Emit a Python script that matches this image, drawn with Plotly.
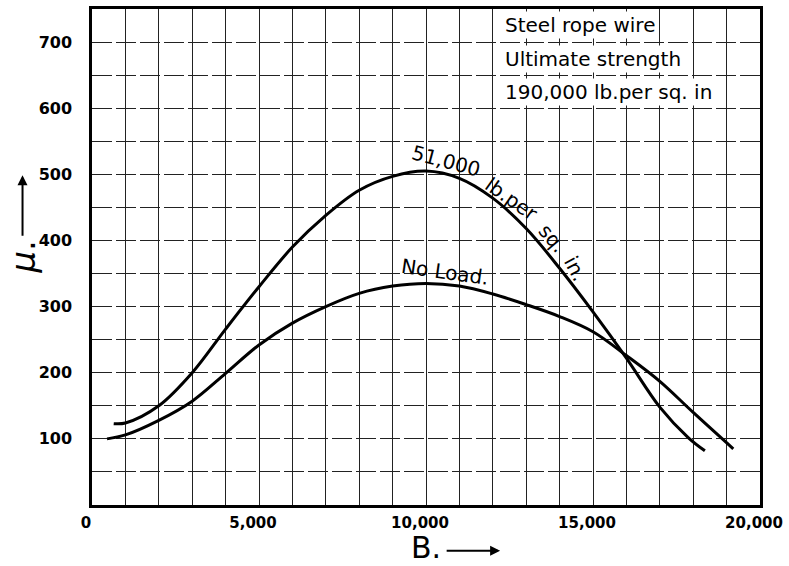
import plotly.graph_objects as go

# Curva con carga de 51,000 lb por pulgada cuadrada
b_load = [650, 1000, 2000, 3000, 4000, 5000, 6000, 7000, 8000, 9000, 10000, 11000,
          12000, 13000, 14000, 15000, 16000, 17000, 17850, 18350]
mu_load = [123, 124, 150, 200, 266, 330, 390, 438, 476, 497, 505, 494,
           464, 418, 358, 292, 222, 148, 102, 82]

# Curva sin carga
b_noload = [450, 1000, 2000, 3000, 4000, 5000, 6000, 7000, 8000, 9000, 10000, 11000,
            12000, 13000, 14000, 15000, 16000, 17000, 18000, 19200]
mu_noload = [100, 106, 128, 157, 199, 242, 275, 300, 320, 331, 335, 331,
             319, 303, 285, 262, 226, 187, 140, 85]

x_ticks = [0, 5000, 10000, 15000, 20000]
x_labels = ["0", "5,000", "10,000", "15,000", "20,000"]
y_ticks = [100, 200, 300, 400, 500, 600, 700]
y_labels = ["100", "200", "300", "400", "500", "600", "700"]

FONT = "DejaVu Sans"

fig = go.Figure()
fig.add_trace(go.Scatter(x=b_load, y=mu_load, mode="lines", line_shape="spline",
                         line=dict(color="black", width=3), name="51,000 lb.per sq. in."))
fig.add_trace(go.Scatter(x=b_noload, y=mu_noload, mode="lines", line_shape="spline",
                         line=dict(color="black", width=3), name="No Load."))

gcol = "#222"

fig.update_xaxes(range=[0, 20000], tickvals=x_ticks, ticktext=x_labels,
                 showline=True, linecolor="black", linewidth=2.5, mirror=True,
                 showgrid=True, gridcolor=gcol, gridwidth=1,
                 minor=dict(dtick=1000, showgrid=True, gridcolor=gcol, gridwidth=1),
                 ticks="", ticklabelstandoff=2, ticklabelshift=-6,
                 ticklabeloverflow="allow", zeroline=False,
                 tickfont=dict(family=FONT, size=15, color="black", weight="bold"))
fig.update_yaxes(range=[0, 750], tickvals=y_ticks, ticktext=y_labels,
                 showline=True, linecolor="black", linewidth=2.5, mirror=True,
                 showgrid=True, gridcolor=gcol, gridwidth=1, griddash="20px,4px",
                 minor=dict(dtick=50, showgrid=True, gridcolor=gcol, gridwidth=1,
                            griddash="20px,4px"),
                 ticks="", ticklabelstandoff=14, zeroline=False,
                 tickfont=dict(family=FONT, size=16, color="black", weight="bold"))

notes = []
# Texto del recuadro superior derecho
for txt, yy in [("Steel rope wire", 726), ("Ultimate strength", 675),
                ("190,000 lb.per sq. in", 625)]:
    notes.append(dict(x=12300, y=yy, xref="x", yref="y", text=txt, showarrow=False,
                      xanchor="left", yanchor="middle", bgcolor="white",
                      font=dict(family=FONT, size=20, color="black")))
# Etiquetas de las curvas
for txt, xx, yy, ang in [("51,000", 10600, 520, 15), ("lb.per", 12550, 462, 35),
                         ("sq.", 13780, 404, 50), ("in.", 14480, 357, 62),
                         ("No Load.", 10580, 352, 8)]:
    notes.append(dict(x=xx, y=yy, xref="x", yref="y", text=txt, showarrow=False,
                      textangle=ang, xanchor="center", yanchor="middle",
                      font=dict(family=FONT, size=20, color="black")))

# Títulos de los ejes con flechas
notes.append(dict(x=0.5, y=-0.122, xref="paper", yref="paper", text="B.", showarrow=False,
                  xanchor="center", yanchor="bottom", borderpad=0,
                  font=dict(family=FONT, size=30, color="black")))
notes.append(dict(x=0.611, y=-0.092, xref="paper", yref="paper", text="", showarrow=True,
                  ax=-55, ay=0, arrowhead=2, arrowsize=1, arrowwidth=2, arrowcolor="black"))
notes.append(dict(x=-0.104, y=0.50, xref="paper", yref="paper", text="<i>μ</i>.",
                  showarrow=False, textangle=-90, xanchor="center", yanchor="middle",
                  font=dict(family=FONT, size=34, color="black")))
notes.append(dict(x=-0.104, y=0.665, xref="paper", yref="paper", text="", showarrow=True,
                  ax=0, ay=62, arrowhead=2, arrowsize=1, arrowwidth=2, arrowcolor="black"))

fig.update_layout(width=789, height=566, margin=dict(l=92, r=26, t=6, b=61),
                  plot_bgcolor="white", paper_bgcolor="white", showlegend=False,
                  annotations=notes)

fig.write_html("out.html", config={"displayModeBar": False},
               post_script="document.body.style.margin='0';")
